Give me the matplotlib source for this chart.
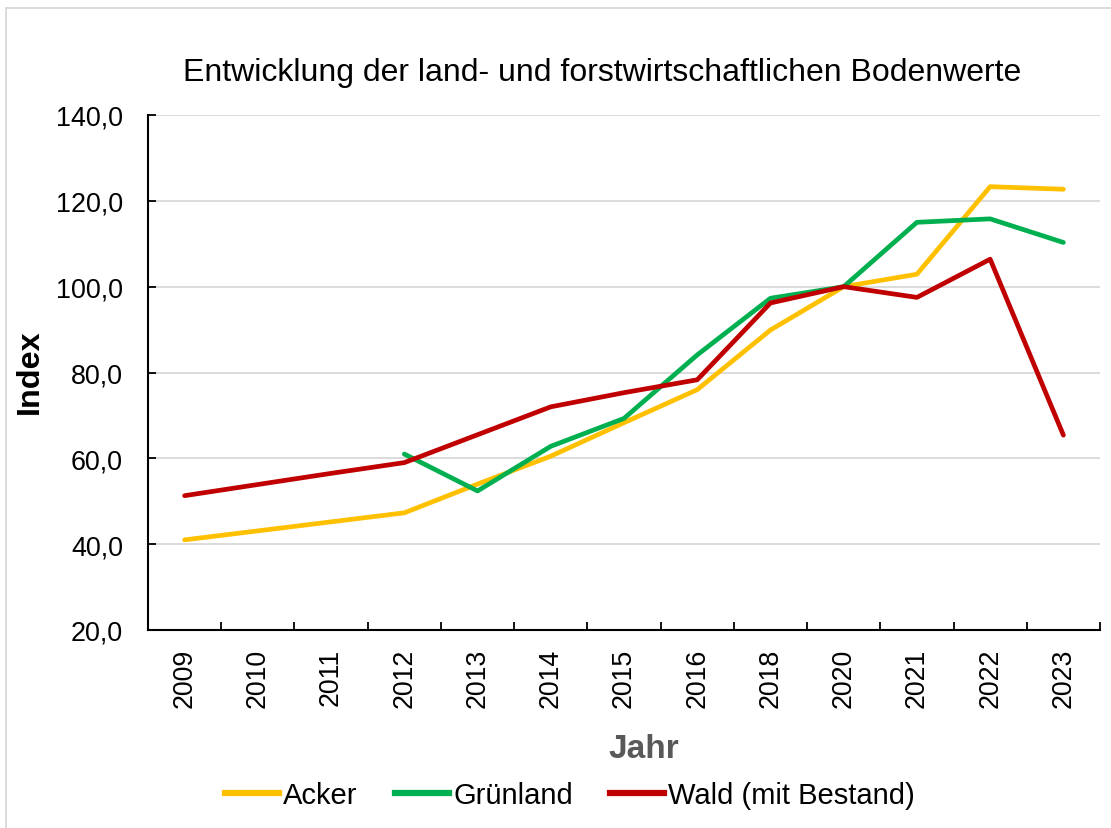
import matplotlib as mpl
import matplotlib.pyplot as plt
from matplotlib.lines import Line2D

mpl.use('Agg')

plt.rcParams['font.family'] = ['Liberation Sans', 'DejaVu Sans']

jahre = ['2009', '2010', '2011', '2012', '2013', '2014', '2015',
         '2016', '2018', '2020', '2021', '2022', '2023']
acker = [41.0, 43.1, 45.2, 47.3, 54.0, 60.5, 68.3, 76.0, 89.9, 100.0, 102.9, 123.3, 122.7]
gruenland = [None, None, None, 61.0, 52.4, 62.8, 69.3, 84.1, 97.3, 100.0, 115.0, 115.8, 110.3]
wald = [51.3, 53.9, 56.5, 59.0, 65.5, 72.0, 75.3, 78.3, 96.2, 100.0, 97.5, 106.4, 65.4]

farben = {'Acker': '#FFC000', 'Grünland': '#00B050', 'Wald (mit Bestand)': '#C00000'}


def zeichne(ax, werte, name):
    xs = [i for i, v in enumerate(werte) if v is not None]
    ys = [v for v in werte if v is not None]
    ax.plot(xs, ys, color=farben[name], linewidth=3.4, solid_capstyle='round',
            solid_joinstyle='round', label=name, zorder=3)


fig = plt.figure(figsize=(11.11, 8.29), dpi=100)
ax = fig.add_axes([148 / 1111, 1 - 631 / 829, (1100 - 148) / 1111, (631 - 116) / 829])

zeichne(ax, acker, 'Acker')
zeichne(ax, gruenland, 'Grünland')
zeichne(ax, wald, 'Wald (mit Bestand)')

ax.set_xlim(-0.5, len(jahre) - 0.5)
ax.set_ylim(20, 140)
ax.set_yticks(range(20, 141, 20))
ax.set_yticklabels(['{:.1f}'.format(v).replace('.', ',') for v in range(20, 141, 20)])
ax.set_xticks(range(len(jahre)))
ax.set_xticklabels(jahre, rotation=90)
ax.set_xticks([i + 0.5 for i in range(len(jahre))], minor=True)

ax.tick_params(axis='x', which='major', length=0, pad=13, labelsize=19.3)
ax.tick_params(axis='x', which='minor', direction='in', length=6, width=1.3)
ax.tick_params(axis='y', direction='in', length=6, width=1.3, pad=18, labelsize=19.4)

for v in range(40, 141, 20):
    ax.axhline(v, color='#d9d9d9', linewidth=1.3, zorder=1)

for s in ['top', 'right']:
    ax.spines[s].set_visible(False)
for s in ['left', 'bottom']:
    ax.spines[s].set_linewidth(1.5)

fig.text(602 / 1111, 1 - 73 / 829, 'Entwicklung der land- und forstwirtschaftlichen Bodenwerte',
         ha='center', va='center', fontsize=23)
fig.text(30 / 1111, 1 - 372 / 829, 'Index', rotation=90, ha='center', va='center',
         fontsize=23.3, fontweight='bold')
fig.text(644 / 1111, 1 - 750 / 829, 'Jahr', ha='center', va='center',
         fontsize=24, fontweight='bold', color='#595959')

handles = [Line2D([], [], color=c, linewidth=4.5) for c in farben.values()]
fig.legend(handles, list(farben.keys()), loc='center', ncol=3, frameon=False,
           bbox_to_anchor=(570 / 1111, 1 - 796 / 829), fontsize=21,
           handlelength=1.85, handletextpad=0.14, columnspacing=1.28)

# Rahmen des Diagrammbereichs
fig.add_artist(Line2D([6 / 1111, 6 / 1111], [0, 1 - 9 / 829], transform=fig.transFigure,
                      color='#d9d9d9', linewidth=1.3))
fig.add_artist(Line2D([6 / 1111, 1], [1 - 9 / 829, 1 - 9 / 829], transform=fig.transFigure,
                      color='#d9d9d9', linewidth=1.3))

fig.savefig('out.png', dpi=100)
